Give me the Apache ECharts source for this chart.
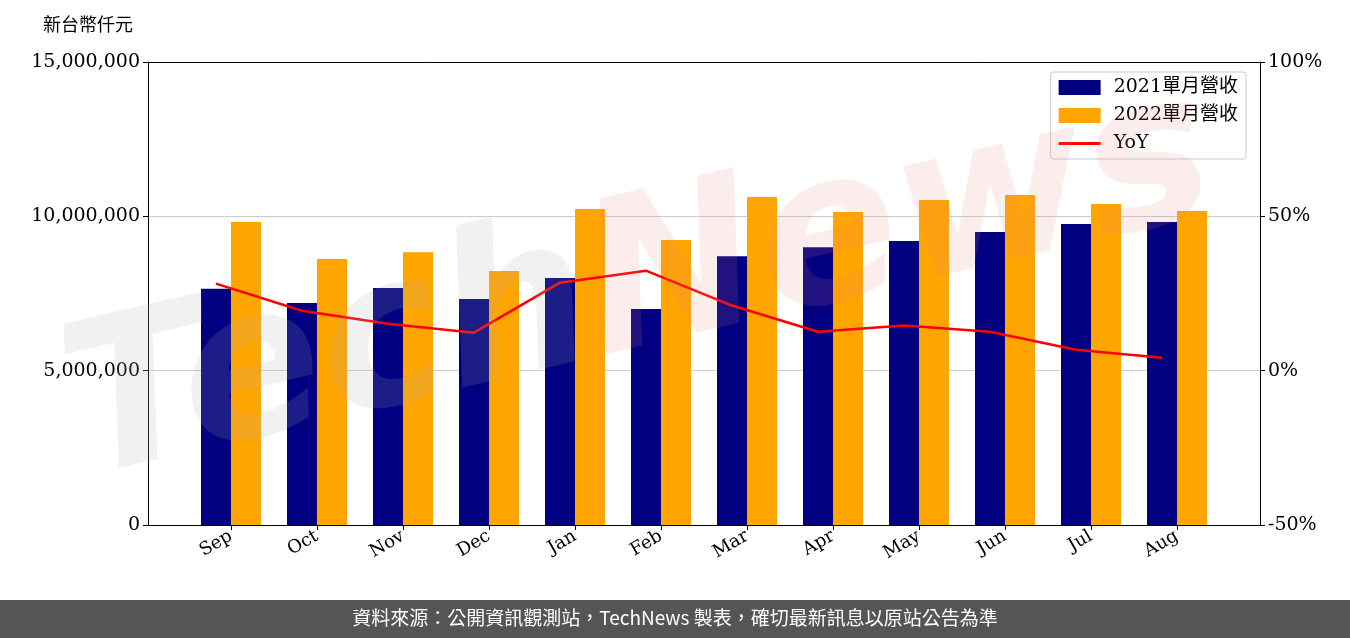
<!DOCTYPE html><html><head><meta charset="utf-8">
<script src="https://cdn.jsdelivr.net/npm/echarts@6/dist/echarts.min.js"></script>
<style>body{margin:0}#c{width:1350px;height:638px}</style></head><body><div id="c"></div>
<script>
const categories=['Sep','Oct','Nov','Dec','Jan','Feb','Mar','Apr','May','Jun','Jul','Aug'];
const rev2021=[7650000,7190000,7680000,7320000,8000000,7000000,8710000,9000000,9200000,9490000,9750000,9820000];
const rev2022=[9820000,8620000,8840000,8230000,10240000,9230000,10630000,10140000,10530000,10690000,10400000,10170000];
const yoy=[28.2,19.4,15.2,12.3,28.5,32.4,21.1,12.6,14.6,12.6,6.8,4.2];
const serif='"DejaVu Serif","Noto Sans CJK TC",serif';
const idx=categories.map((c,i)=>i);
const ch=echarts.init(document.getElementById('c'));
ch.setOption({
 animation:false,
 grid:{left:148,right:90,top:62,bottom:113},
 graphic:[
  {type:'text',left:43,top:15,style:{text:'新台幣仟元',font:'18px "Noto Sans CJK TC"',fill:'#000'}},
  {type:'text',x:640,y:290,rotation:0.23,z:100,silent:true,style:{text:'{a|Tech}{b|News}',align:'center',verticalAlign:'middle',
    rich:{a:{font:'italic bold 210px "DejaVu Sans"',fill:'rgba(170,170,170,0.17)'},b:{font:'italic bold 210px "DejaVu Sans"',fill:'rgba(235,130,130,0.14)'}}}},
  {type:'rect',left:0,top:600,shape:{width:1350,height:38},style:{fill:'#555'}},
  {type:'text',left:'center',top:608,style:{text:'資料來源：公開資訊觀測站，TechNews 製表，確切最新訊息以原站公告為準',font:'19px "Noto Sans CJK TC"',fill:'#fff'}}
 ],
 legend:{right:104,top:72,orient:'vertical',itemGap:9,itemWidth:42,itemHeight:15,padding:[6,8,6,8],
  borderColor:'#ccc',borderWidth:1,borderRadius:3,backgroundColor:'#fff',align:'left',
  textStyle:{fontFamily:serif,fontSize:19,color:'#000',padding:[0,0,0,8]},
  data:[{name:'2021單月營收',icon:'rect'},{name:'2022單月營收',icon:'rect'},{name:'YoY',icon:'path://M0,6h40v3H0z'}]},
 xAxis:[{type:'value',min:-0.965,max:11.965,splitLine:{show:false},
  axisTick:{show:true,customValues:idx,length:5,lineStyle:{color:'#000'}},
  axisLine:{onZero:false,lineStyle:{color:'#000'}},
  axisLabel:{customValues:idx,formatter:v=>categories[v],rotate:30,fontFamily:serif,fontSize:18,color:'#000',margin:10}},
  {type:'value',position:'top',min:-0.965,max:11.965,axisLine:{show:true,onZero:false,lineStyle:{color:'#000'}},axisTick:{show:false},axisLabel:{show:false},splitLine:{show:false}}],
 yAxis:[{type:'value',min:0,max:15000000,interval:5000000,
   axisLine:{show:true,onZero:false,lineStyle:{color:'#000'}},axisTick:{show:true,length:5,lineStyle:{color:'#000'}},
   splitLine:{lineStyle:{color:'#ccc'}},
   axisLabel:{fontFamily:serif,fontSize:19,color:'#000',formatter:v=>v.toLocaleString('en-US')}},
  {type:'value',min:-50,max:100,interval:50,position:'right',
   axisLine:{show:true,onZero:false,lineStyle:{color:'#000'}},axisTick:{show:true,length:5,lineStyle:{color:'#000'}},
   splitLine:{show:false},axisLabel:{fontFamily:serif,fontSize:19,color:'#000',formatter:v=>v+'%'}}],
 series:[
  {name:'2021單月營收',type:'bar',data:rev2021.map((v,i)=>[i,v]),itemStyle:{color:'#000080'},barWidth:30,barGap:'0%'},
  {name:'2022單月營收',type:'bar',data:rev2022.map((v,i)=>[i,v]),itemStyle:{color:'#FFA500'},barWidth:30},
  {name:'YoY',type:'line',yAxisIndex:1,data:yoy.map((v,i)=>[i-0.175,v]),symbol:'none',lineStyle:{color:'#f00',width:2.5},itemStyle:{color:'#f00'},z:5}
 ]
});
</script></body></html>
